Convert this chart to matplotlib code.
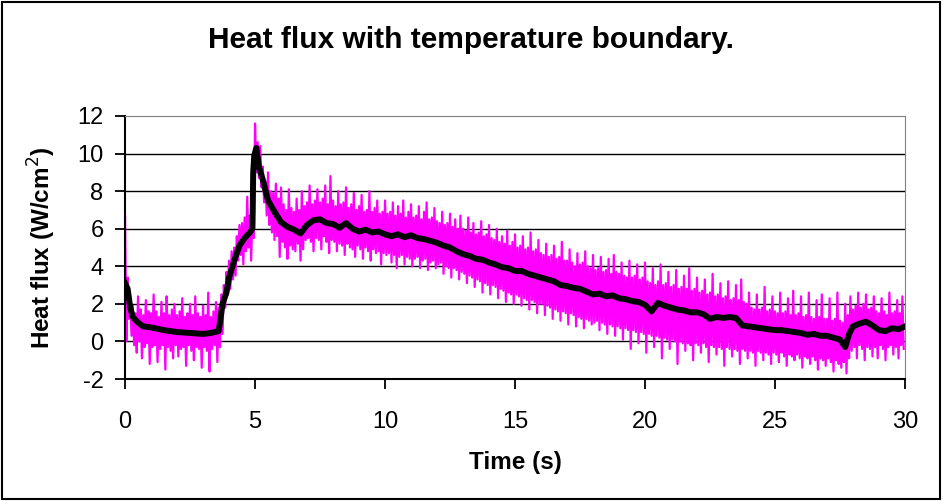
import numpy as np
import matplotlib
matplotlib.use("Agg")
import matplotlib.pyplot as plt
from matplotlib.patches import Rectangle

plt.rcParams["font.family"] = ["Liberation Sans", "DejaVu Sans"]
plt.rcParams["axes.unicode_minus"] = False

MAGENTA = "#ff00ff"; GREY = "#808080"

# noisy measured flux, 10 samples per second.
# upper swings at t = s + 0.0 .. 0.9, lower swings at t = s + 0.05 .. 0.95
raw_hi = [6.7, 3.4, 2.3, 1.9, 1.5, 2.4, 1.7, 1.4, 2.2, 1.6,
          1.5, 2.5, 1.6, 1.3, 2.1, 1.5, 2.4, 1.4, 1.7, 2.0,
          1.4, 1.6, 2.3, 1.3, 1.5, 2.0, 1.4, 2.4, 1.5, 1.3,
          1.9, 1.4, 2.6, 1.3, 1.6, 2.1, 1.8, 2.5, 3.0, 3.7,
          4.3, 4.8, 5.0, 5.6, 6.2, 6.3, 6.6, 7.7, 6.7, 6.9,
          11.6, 10.6, 10.4, 9.3, 8.5, 9.0, 8.0, 7.9, 8.4, 7.6,
          8.2, 7.3, 7.0, 8.1, 7.1, 6.9, 7.6, 7.0, 8.0, 7.2,
          7.4, 8.3, 7.3, 7.5, 8.1, 7.4, 7.6, 8.3, 7.3, 8.8,
          7.5, 7.2, 8.0, 7.3, 7.4, 8.2, 7.1, 7.3, 7.9, 7.0,
          7.2, 7.8, 6.9, 7.0, 8.0, 6.9, 7.1, 7.5, 6.8, 6.9,
          7.5, 6.8, 6.9, 7.4, 6.7, 7.2, 6.8, 7.5, 6.6, 6.9,
          7.3, 6.6, 6.7, 7.2, 6.5, 6.9, 7.4, 6.5, 6.6, 7.1,
          6.4, 6.3, 6.9, 6.2, 6.3, 6.8, 6.1, 6.5, 6.0, 6.7,
          6.0, 5.9, 6.6, 5.8, 6.3, 5.7, 5.8, 6.4, 5.6, 5.7,
          6.2, 5.5, 5.4, 6.0, 5.3, 5.6, 5.2, 5.9, 5.1, 5.3,
          5.7, 5.0, 5.1, 5.6, 4.9, 5.0, 5.8, 4.8, 4.9, 5.4,
          4.7, 4.6, 5.2, 4.5, 4.6, 5.1, 4.4, 4.5, 5.3, 4.3,
          4.3, 4.9, 4.2, 4.0, 4.7, 4.1, 4.2, 4.8, 4.0, 3.9,
          4.6, 3.8, 3.9, 4.5, 3.7, 3.8, 4.4, 3.6, 4.6, 3.7,
          3.6, 4.2, 3.5, 3.4, 4.3, 3.4, 3.5, 4.1, 3.3, 3.4,
          4.2, 3.2, 3.1, 3.9, 3.0, 3.2, 4.1, 3.0, 3.1, 3.7,
          2.9, 3.0, 3.8, 2.8, 2.9, 3.5, 2.8, 3.9, 2.7, 2.8,
          3.4, 2.6, 2.7, 3.3, 2.5, 2.6, 3.6, 2.4, 2.5, 3.1,
          2.3, 2.4, 3.2, 2.2, 2.3, 3.0, 2.2, 3.3, 2.1, 2.0,
          2.6, 1.8, 1.7, 2.5, 1.7, 1.8, 2.9, 1.6, 1.7, 2.4,
          1.6, 1.5, 2.6, 1.5, 1.6, 2.3, 1.4, 2.7, 1.4, 1.5,
          2.4, 1.3, 1.4, 2.6, 1.3, 1.2, 2.2, 1.3, 2.5, 1.2,
          1.2, 2.3, 1.1, 1.2, 2.6, 1.1, 1.0, 2.0, 1.4, 2.4,
          1.7, 1.9, 2.6, 1.8, 2.0, 2.5, 1.7, 1.8, 2.4, 1.6,
          1.5, 2.3, 1.6, 1.4, 2.6, 1.5, 1.6, 2.2, 1.5, 2.4]
raw_lo = [0.0, 1.2, 0.3, -0.2, -0.6, 0.0, -0.9, -0.3, -0.1, -1.2,
          -0.3, -0.2, -1.1, -0.4, -0.2, -1.5, -0.3, -0.5, -0.9, -0.2,
          -0.8, -0.4, -0.3, -1.3, -0.2, -0.5, -1.0, -0.3, -0.4, -1.4,
          -0.3, -0.5, -1.6, -0.4, -0.2, -1.1, -0.3, 0.4, 1.8, 2.5,
          2.8, 3.3, 3.5, 4.3, 4.6, 4.1, 4.8, 5.0, 4.3, 5.5,
          9.0, 8.7, 8.2, 7.4, 6.7, 6.2, 5.8, 5.4, 5.6, 4.5,
          5.3, 5.0, 4.4, 5.1, 4.9, 4.8, 5.2, 4.3, 4.9, 5.4,
          5.5, 5.3, 4.8, 5.5, 5.4, 4.9, 5.6, 5.3, 4.7, 5.4,
          5.3, 4.8, 5.2, 5.1, 4.6, 5.2, 5.0, 4.9, 4.5, 5.1,
          4.9, 4.4, 5.0, 4.8, 4.3, 4.9, 4.7, 4.8, 4.1, 4.7,
          4.6, 4.7, 4.2, 4.6, 3.9, 4.5, 4.6, 4.1, 4.5, 4.4,
          4.0, 4.4, 4.5, 3.9, 4.3, 4.4, 3.8, 4.2, 4.3, 3.9,
          4.1, 4.2, 3.6, 4.0, 3.9, 3.4, 3.9, 3.8, 3.3, 3.7,
          3.6, 3.1, 3.5, 3.4, 2.9, 3.3, 3.2, 2.6, 3.1, 3.0,
          2.5, 3.0, 2.9, 2.3, 2.8, 2.7, 2.1, 2.6, 2.5, 2.0,
          2.5, 2.4, 1.9, 2.3, 2.2, 1.7, 2.2, 2.1, 1.5, 2.0,
          2.0, 1.4, 1.9, 1.8, 1.2, 1.7, 1.6, 1.1, 1.6, 1.5,
          0.9, 1.5, 1.4, 0.8, 1.3, 1.2, 0.7, 1.2, 1.1, 0.9,
          1.0, 1.1, 0.6, 1.0, 0.9, 0.4, 0.9, 0.8, 0.3, 0.8,
          0.7, 0.1, 0.7, 0.6, -0.4, 0.6, 0.5, -0.1, 0.5, 0.4,
          -0.6, 0.4, 0.3, -0.3, 0.3, 0.2, -0.9, 0.2, 0.1, -0.4,
          0.1, 0.0, -1.2, 0.0, -0.1, -0.5, -0.1, -0.2, -1.0, -0.1,
          -0.2, -0.6, -0.1, -0.3, -1.1, -0.2, -0.3, -0.7, -0.3, -0.4,
          -1.3, -0.3, -0.4, -0.8, -0.4, -0.5, -1.2, -0.4, -0.5, -0.9,
          -0.5, -0.6, -1.3, -0.5, -0.6, -1.0, -0.6, -0.7, -1.2, -0.6,
          -0.7, -1.1, -0.6, -0.8, -1.3, -0.7, -0.8, -1.0, -0.7, -0.9,
          -1.4, -0.8, -0.9, -1.2, -0.8, -1.0, -1.5, -0.9, -1.0, -1.3,
          -0.9, -1.1, -1.6, -1.0, -1.2, -1.4, -1.1, -1.7, -0.9, -0.5,
          -0.3, -0.9, -0.2, -0.4, -1.0, -0.3, -0.4, -0.8, -0.3, -0.9,
          -0.2, -0.4, -1.0, -0.3, -0.2, -0.7, -0.3, -0.9, -0.2, -0.4]

# filtered flux (black)
t_fit = [0, 0.1, 0.2, 0.3, 0.5, 0.7, 1.0, 1.5, 2.0, 2.5, 3.0, 3.3, 3.6, 3.65, 3.75, 3.9,
         4.0, 4.2, 4.4, 4.6, 4.8, 4.9, 4.93, 4.97, 5.05, 5.15, 5.3, 5.5, 5.75,
         6.0, 6.25, 6.5, 6.75, 7.0, 7.25, 7.5, 7.75, 8.0, 8.25, 8.5, 8.75,
         9.0, 9.25, 9.5, 9.75, 10.0, 10.25, 10.5, 10.75, 11.0, 11.25, 11.5, 11.75,
         12.0, 12.25, 12.5, 12.75, 13.0, 13.25, 13.5, 13.75, 14.0, 14.25, 14.5, 14.75,
         15.0, 15.25, 15.5, 15.75, 16.0, 16.25, 16.5, 16.75, 17.0, 17.25, 17.5, 17.75,
         18.0, 18.25, 18.5, 18.75, 19.0, 19.25, 19.5, 19.75, 20.0, 20.25, 20.5, 20.75,
         21.0, 21.25, 21.5, 21.75, 22.0, 22.25, 22.5, 22.75, 23.0, 23.25, 23.5, 23.75,
         24.0, 24.25, 24.5, 24.75, 25.0, 25.25, 25.5, 25.75, 26.0, 26.25, 26.5, 26.75,
         27.0, 27.25, 27.5, 27.7, 27.85, 28.0, 28.25, 28.5, 28.75, 29.0, 29.25, 29.5,
         29.75, 30.0]
q_fit = [3.1, 2.8, 1.8, 1.3, 1.0, 0.8, 0.75, 0.6, 0.5, 0.45, 0.4, 0.45, 0.55, 1.0, 2.0, 2.6,
         3.4, 4.3, 5.1, 5.5, 5.8, 6.0, 9.0, 9.9, 10.3, 9.3, 8.6, 7.5, 6.9,
         6.35, 6.1, 5.95, 5.75, 6.2, 6.45, 6.5, 6.3, 6.25, 6.05, 6.3, 6.0,
         5.85, 5.95, 5.8, 5.85, 5.7, 5.6, 5.7, 5.55, 5.65, 5.5, 5.45, 5.35,
         5.25, 5.1, 5.0, 4.8, 4.65, 4.55, 4.4, 4.35, 4.2, 4.1, 3.95, 3.9,
         3.75, 3.75, 3.6, 3.5, 3.4, 3.3, 3.2, 3.0, 2.95, 2.85, 2.8, 2.65,
         2.5, 2.55, 2.4, 2.45, 2.3, 2.25, 2.15, 2.1, 1.95, 1.6, 2.05, 1.9,
         1.8, 1.7, 1.65, 1.55, 1.55, 1.45, 1.2, 1.3, 1.25, 1.3, 1.25, 0.85,
         0.8, 0.75, 0.7, 0.65, 0.6, 0.6, 0.55, 0.5, 0.45, 0.35, 0.4, 0.3,
         0.3, 0.2, 0.1, -0.3, 0.4, 0.8, 0.95, 1.05, 0.85, 0.6, 0.55, 0.7,
         0.65, 0.8]

t_hi = np.arange(len(raw_hi)) * 0.1
t_raw = np.column_stack([t_hi, t_hi + 0.05]).ravel()
q_raw = np.column_stack([raw_hi, raw_lo]).ravel()

fig = plt.figure(figsize=(9.43, 5.01), dpi=100)
ax = fig.add_axes([0.1326, 0.2435, 0.8271, 0.525])

ax.plot(t_raw, q_raw, color=MAGENTA, lw=1.6, zorder=2)
ax.plot(t_fit, q_fit, color="black", lw=4.3, zorder=3)

ax.set_xlim(0, 30); ax.set_ylim(-2, 12)
ax.set_xticks(range(0, 31, 5)); ax.set_yticks(range(-2, 13, 2))
ax.set_axisbelow(True)
ax.grid(axis="y", color="black", lw=1)
ax.get_ygridlines()[-1].set_visible(False)
ax.spines["top"].set_color(GREY); ax.spines["right"].set_color(GREY)
ax.spines["left"].set_linewidth(1.5); ax.spines["bottom"].set_linewidth(1.5)
ax.tick_params(axis="both", direction="out", length=7, width=1.3, labelsize=17)
ax.tick_params(axis="x", pad=16)
ax.tick_params(axis="y", pad=8.5)

ax.set_xlabel("Time (s)", fontsize=17.5, fontweight="bold", labelpad=13)
ax.set_ylabel("Heat flux (W/cm$^2$)", fontsize=17.5, fontweight="bold", labelpad=14)
fig.text(0.5, 0.92, "Heat flux with temperature boundary.", ha="center", va="center",
         fontsize=21.5, fontweight="bold")

fig.patches.append(Rectangle((0.002, 0.004), 0.995, 0.992, transform=fig.transFigure,
                             fill=False, edgecolor="black", lw=1.5))
fig.savefig("out.png", dpi=100, facecolor="white")
